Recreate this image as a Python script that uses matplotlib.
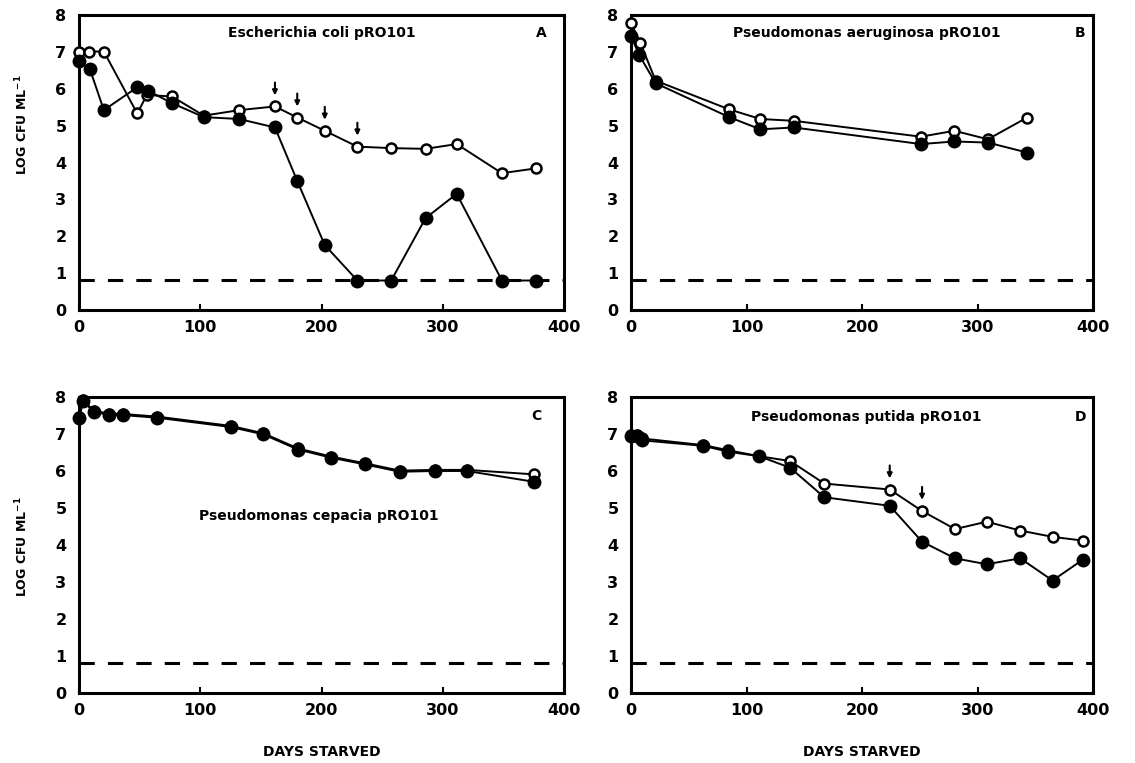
import matplotlib
matplotlib.use("Agg")
import matplotlib.pyplot as plt

plt.rcParams['font.family'] = ['DejaVu Sans']
plt.rcParams['font.weight'] = 'bold'
plt.rcParams['axes.labelweight'] = 'bold'

DETECTION_LIMIT = 0.82

# Panel A - Escherichia coli pRO101
a_days_open = [0, 8, 20.5, 48, 56, 76.7, 103, 132, 161.6, 180, 202.7, 229.6, 257.5, 285.8, 311.5, 348.8, 376.7]
a_open = [7.01, 7.01, 7.01, 5.33, 5.83, 5.79, 5.27, 5.42, 5.52, 5.22, 4.86, 4.43, 4.39, 4.37, 4.50, 3.71, 3.84]
a_days_filled = [0, 9, 20.5, 48, 56.7, 76.7, 103, 132, 161.6, 180, 202.7, 229.6, 257.5, 285.8, 311.5, 348.8, 376.7]
a_filled = [6.74, 6.53, 5.42, 6.04, 5.95, 5.61, 5.23, 5.18, 4.95, 3.50, 1.76, 0.80, 0.80, 2.49, 3.15, 0.80, 0.80]
a_arrow_days = [161.6, 180, 202.7, 229.6]
a_arrow_vals = [5.52, 5.22, 4.86, 4.43]

# Panel B - Pseudomonas aeruginosa pRO101
b_days_open = [0, 8, 21.3, 85, 112, 141, 251, 280, 309, 343]
b_open = [7.78, 7.25, 6.22, 5.44, 5.18, 5.13, 4.70, 4.86, 4.63, 5.22]
b_days_filled = [0, 7, 21.3, 85, 112, 141, 251, 280, 309, 343]
b_filled = [7.43, 6.92, 6.15, 5.23, 4.90, 4.95, 4.50, 4.57, 4.54, 4.27]

# Panel C - Pseudomonas cepacia pRO101
c_days = [0, 3.5, 12, 25, 36.5, 64.6, 125, 152, 180.6, 208, 235.6, 264.5, 293.5, 320, 375]
c_open = [7.45, 7.92, 7.63, 7.55, 7.54, 7.47, 7.22, 7.02, 6.61, 6.39, 6.21, 6.01, 6.03, 6.03, 5.91]
c_filled = [7.42, 7.89, 7.60, 7.52, 7.51, 7.44, 7.19, 6.99, 6.58, 6.36, 6.18, 5.98, 6.00, 6.00, 5.71]

# Panel D - Pseudomonas putida pRO101
d_days = [0, 5, 9.3, 62.6, 84.4, 110.8, 137.7, 167.4, 224, 252, 280.5, 308, 337, 365, 391]
d_open = [6.97, 6.97, 6.88, 6.70, 6.56, 6.40, 6.27, 5.66, 5.50, 4.92, 4.43, 4.63, 4.39, 4.22, 4.12]
d_filled = [6.94, 6.94, 6.83, 6.68, 6.52, 6.40, 6.09, 5.29, 5.06, 4.09, 3.64, 3.48, 3.64, 3.04, 3.60]
d_arrow_days = [224, 252]
d_arrow_vals = [5.50, 4.92]

W, H = 1135, 763
fig = plt.figure(figsize=(W / 100, H / 100), dpi=100)


def px_axes(left, right, top, bottom):
    return fig.add_axes([left / W, 1 - bottom / H, (right - left) / W, (bottom - top) / H])


def style(ax):
    ax.set_xlim(0, 400)
    ax.set_ylim(0, 8)
    ax.set_xticks([0, 100, 200, 300, 400])
    ax.set_yticks(range(9))
    for s in ax.spines.values():
        s.set_linewidth(2.2)
    ax.tick_params(direction='in', length=4, width=1.5, labelsize=11.5, pad=7)
    ax.tick_params(axis='y', length=0, pad=9)
    ax.axhline(DETECTION_LIMIT, color='black', lw=2.2, dashes=(5, 4.3))


def draw(ax, xo, yo, xf, yf):
    # open circles first, filled ones sit on top where they overlap
    ax.plot(xo, yo, color='black', lw=1.4, marker='o', ms=7.2,
            mfc='white', mec='black', mew=1.8, clip_on=False, zorder=3)
    ax.plot(xf, yf, color='black', lw=1.4, marker='o', ms=9,
            mfc='black', mec='black', clip_on=False, zorder=4)


def arrows(ax, days, vals):
    for x, v in zip(days, vals):
        ax.annotate('', xy=(x, v + 0.3), xytext=(x, v + 0.65),
                    arrowprops=dict(arrowstyle='-|>', color='black', lw=1.5,
                                    mutation_scale=7, shrinkA=0, shrinkB=0))


ylab = 'LOG CFU ML$^{\\mathbf{-1}}$'

axA = px_axes(79, 564, 15, 310)
style(axA)
draw(axA, a_days_open, a_open, a_days_filled, a_filled)
arrows(axA, a_arrow_days, a_arrow_vals)
axA.text(200, 7.5, 'Escherichia coli pRO101', ha='center', va='center', fontsize=10)
axA.text(381, 7.5, 'A', ha='center', va='center', fontsize=10)
fig.text(22 / W, 1 - 125 / H, ylab, rotation=90, ha='center', va='center', fontsize=9)

axB = px_axes(631, 1093, 15, 310)
style(axB)
draw(axB, b_days_open, b_open, b_days_filled, b_filled)
axB.text(204, 7.5, 'Pseudomonas aeruginosa pRO101', ha='center', va='center', fontsize=10)
axB.text(389, 7.5, 'B', ha='center', va='center', fontsize=10)

axC = px_axes(79, 564, 397, 693)
style(axC)
draw(axC, c_days, c_open, c_days, c_filled)
axC.text(198, 4.78, 'Pseudomonas cepacia pRO101', ha='center', va='center', fontsize=10)
axC.text(377, 7.5, 'C', ha='center', va='center', fontsize=10)
axC.set_xlabel('DAYS STARVED', fontsize=10, fontweight='bold', labelpad=20)
fig.text(22 / W, 1 - 547 / H, ylab, rotation=90, ha='center', va='center', fontsize=9)

axD = px_axes(631, 1093, 397, 693)
style(axD)
draw(axD, d_days, d_open, d_days, d_filled)
arrows(axD, d_arrow_days, d_arrow_vals)
axD.text(204, 7.46, 'Pseudomonas putida pRO101', ha='center', va='center', fontsize=10)
axD.text(389, 7.46, 'D', ha='center', va='center', fontsize=10)
axD.set_xlabel('DAYS STARVED', fontsize=10, fontweight='bold', labelpad=20)

fig.savefig('out.png', dpi=100)
